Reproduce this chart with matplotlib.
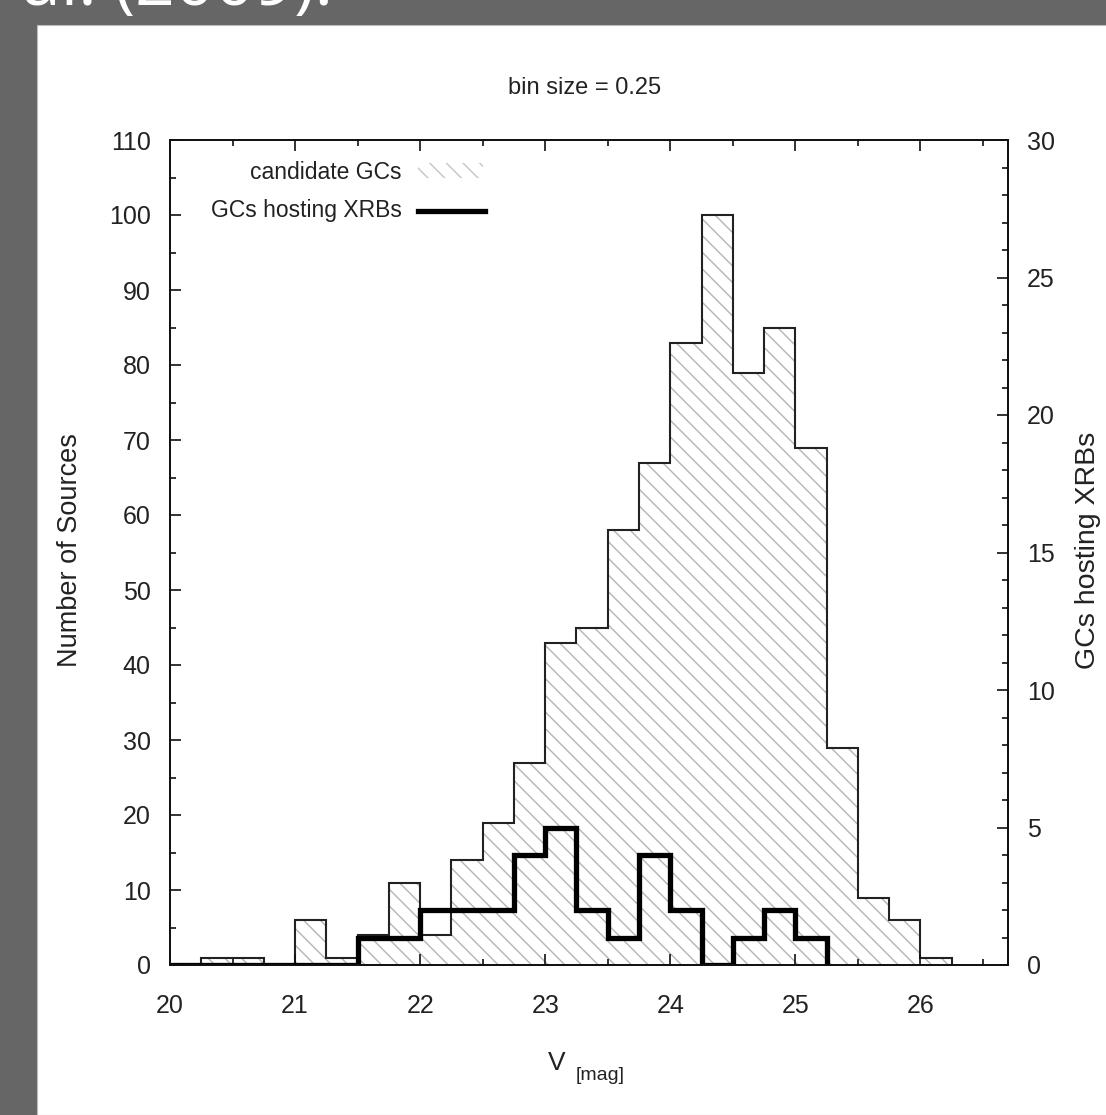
import numpy as np
import matplotlib
matplotlib.use("Agg")
import matplotlib.pyplot as plt
from matplotlib.patches import Rectangle
from matplotlib.lines import Line2D
from matplotlib.ticker import MultipleLocator

# histogram data, bin size 0.25 mag starting at V = 20
bin_start = 20.0
bin_size = 0.25
cand_counts = [0, 1, 1, 0, 6, 1, 4, 11, 4, 14, 19, 27, 43, 45, 58, 67,
               83, 100, 79, 85, 69, 29, 9, 6, 1]
xrb_counts = [0, 0, 0, 0, 0, 0, 1, 1, 2, 2, 2, 4, 5, 2, 1, 4, 2, 0, 1, 2, 1]

x_ticks = [20, 21, 22, 23, 24, 25, 26]
y_ticks = [0, 10, 20, 30, 40, 50, 60, 70, 80, 90, 100, 110]
y2_ticks = [0, 5, 10, 15, 20, 25, 30]

cand_edges = bin_start + bin_size * np.arange(len(cand_counts) + 1)
xrb_edges = bin_start + bin_size * np.arange(len(xrb_counts) + 1)

plt.rcParams['font.family'] = ['Liberation Sans', 'DejaVu Sans']
plt.rcParams['hatch.linewidth'] = 1.0
plt.rcParams['hatch.color'] = '#b4b4b4'

W, H = 1106, 1115
fig = plt.figure(figsize=(W / 100, H / 100), dpi=100, facecolor='#666666')
fig.patches.append(Rectangle((37 / W, 0), 1, (H - 25) / H, transform=fig.transFigure,
                             facecolor='white', edgecolor='#bbbbbb', lw=0.8, zorder=-1))
# caption of the slide above the chart, mostly cut off
fig.text(22 / W, 1 - 5 / H, 'al. (2009).', color='white', fontsize=50,
         family=['Open Sans', 'DejaVu Sans'], va='baseline', ha='left')

ax = fig.add_axes([170 / W, 1 - 965 / H, 838 / W, 825 / H])
ax2 = ax.twinx()

# candidate GCs: hatched fill + outline
ax.stairs(cand_counts, cand_edges, baseline=0, fill=True, facecolor='none',
          edgecolor='#b4b4b4', hatch='\\\\', lw=0)
ax.stairs(cand_counts, cand_edges, baseline=0, fill=False, color='#222222', lw=1.5)

# GCs hosting XRBs on right axis
ax2.stairs(xrb_counts, xrb_edges, baseline=0, fill=False, color='black', lw=3.8)

ax.set_xlim(20, 26.7)
ax.set_ylim(0, 110)
ax2.set_ylim(0, 30)
ax.set_xticks(x_ticks)
ax.set_yticks(y_ticks)
ax2.set_yticks(y2_ticks)
ax.xaxis.set_minor_locator(MultipleLocator(0.5))
ax.yaxis.set_minor_locator(MultipleLocator(5))
ax2.yaxis.set_minor_locator(MultipleLocator(1))

for a in (ax, ax2):
    for s in a.spines.values():
        s.set_linewidth(1.3)
        s.set_color('#111111')
ax.tick_params(axis='x', which='both', direction='in', top=True, bottom=True,
               labelsize=18, pad=21, colors='#111111', labelcolor='#222222')
ax.tick_params(axis='y', which='both', direction='in', left=True, right=False,
               labelsize=18, pad=14, colors='#111111', labelcolor='#222222')
ax2.tick_params(axis='y', which='both', direction='in', right=True, left=False,
                labelsize=18, pad=13.5, colors='#111111', labelcolor='#222222')
for a in (ax, ax2):
    a.tick_params(which='major', length=8, width=1.2)
    a.tick_params(which='minor', length=4.5, width=1.2)

# legend, gnuplot style (label right aligned, sample to the right)
ax.text(0.2768, 0.961, 'candidate GCs', transform=ax.transAxes, ha='right',
        va='center', fontsize=16.5, color='#222222')
ax.text(0.2768, 0.914, 'GCs hosting XRBs', transform=ax.transAxes, ha='right',
        va='center', fontsize=16.5, color='#222222')
ax.add_patch(Rectangle((0.296, 0.954), 0.0775, 0.018, transform=ax.transAxes,
                       facecolor='none', edgecolor='#c4c4c4', hatch='\\\\', lw=0))
ax.add_line(Line2D([0.296, 0.376], [0.914, 0.914], transform=ax.transAxes,
                   color='black', lw=3.8))

fig.text(585 / W, 1 - 88 / H, 'bin size = 0.25', ha='center', va='center',
         fontsize=17, color='#222222')
fig.text(557 / W, 1 - 1063 / H, 'V', ha='center', va='center', fontsize=19,
         color='#222222')
fig.text(600 / W, 1 - 1076 / H, '[mag]', ha='center', va='center', fontsize=14,
         color='#222222')
fig.text(70 / W, 1 - 550 / H, 'Number of Sources', rotation=90, ha='center',
         va='center', fontsize=19.5, color='#222222')
fig.text(1088 / W, 1 - 550 / H, 'GCs hosting XRBs', rotation=90, ha='center',
         va='center', fontsize=20.5, color='#222222')

fig.savefig('out.png', dpi=100, facecolor=fig.get_facecolor())
